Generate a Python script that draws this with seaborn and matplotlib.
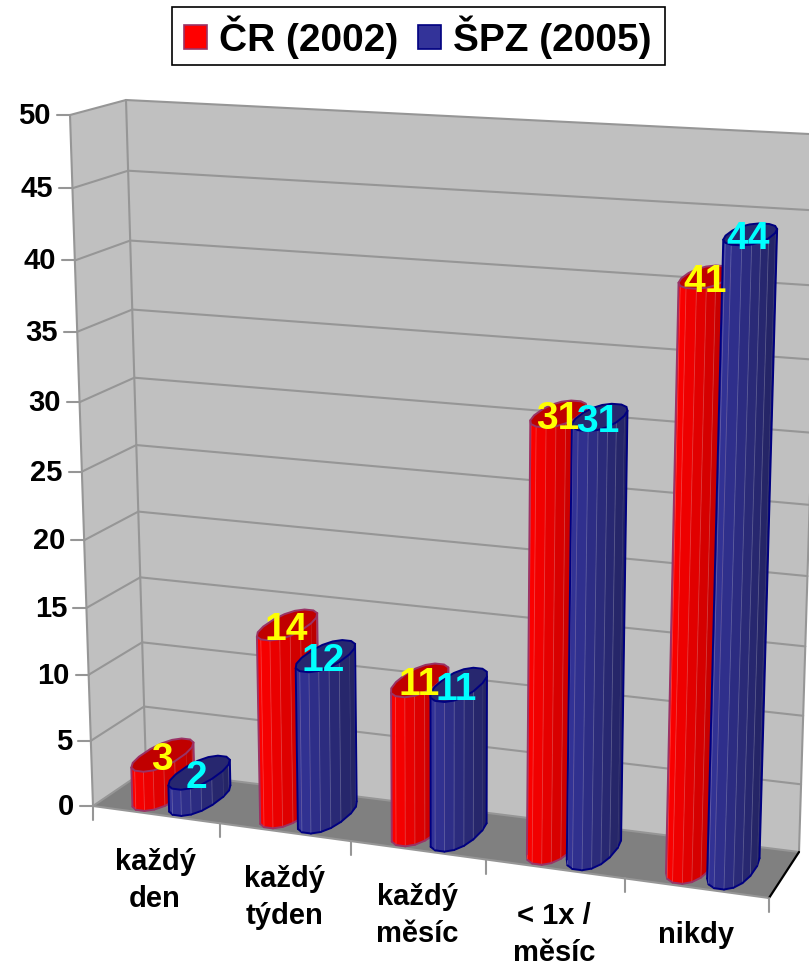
import numpy as np
import pandas as pd
import seaborn as sns
import matplotlib
matplotlib.use("Agg")
import matplotlib.pyplot as plt
from matplotlib.patches import Polygon, Patch, Rectangle

categories = ["každý\nden", "každý\ntýden", "každý\nměsíc", "< 1x /\nměsíc", "nikdy"]
series_names = ["ČR (2002)", "ŠPZ (2005)"]
cr_values = [3, 14, 11, 31, 41]
spz_values = [2, 12, 11, 31, 44]
y_ticks = [0, 5, 10, 15, 20, 25, 30, 35, 40, 45, 50]
y_max = 50

GRID = "#969696"
WALL = "#C0C0C0"
FLOOR = "#808080"
label_colors = ["#FFFF00", "#00FFFF"]
edge_colors = ["#993366", "#000080"]
top_colors = ["#C00000", "#27276F"]
side_light = [np.array([255, 0, 0]) / 255, np.array([51, 51, 153]) / 255]
side_dark = [np.array([184, 0, 0]) / 255, np.array([36, 36, 98]) / 255]

sns.set_theme(style="white")
plt.rcParams["font.family"] = ["Liberation Sans", "DejaVu Sans"]
plt.rcParams["font.weight"] = "bold"

df = pd.DataFrame({
    "cat": categories * 2,
    "series": [series_names[0]] * 5 + [series_names[1]] * 5,
    "value": cr_values + spz_values,
})

fig = plt.figure(figsize=(8.09, 9.67), dpi=100)

# seaborn lays out the dodged bars, they get re-projected below
ax_bar = fig.add_axes([0, 0, 1, 1])
sns.barplot(data=df, x="cat", y="value", hue="series", width=0.58, gap=0,
            legend=False, ax=ax_bar)
bars = [[(b.get_x(), b.get_width(), b.get_height()) for b in c] for c in ax_bar.containers]
ax_bar.set_visible(False)

ax = fig.add_axes([0, 0, 1, 1])
ax.set_xlim(0, 809)
ax.set_ylim(967, 0)
ax.axis("off")


def homography(corners):
    # unit square -> quad (order: 00, 01, 11, 10)
    src = [(0, 0), (0, 1), (1, 1), (1, 0)]
    A, b = [], []
    for (x, y), (X, Y) in zip(src, corners):
        A.append([x, y, 1, 0, 0, 0, -x * X, -y * X])
        A.append([0, 0, 0, x, y, 1, -x * Y, -y * Y])
        b += [X, Y]
    return np.append(np.linalg.solve(np.array(A, float), np.array(b, float)), 1).reshape(3, 3)


H_front = homography([(93, 806), (70, 115), (793, 155), (769, 898)])
H_back = homography([(146, 770), (126, 100), (821, 134.6), (799, 852)])


def project(u, v, d):
    out = []
    for H in (H_front, H_back):
        p = H @ np.array([u, v, 1.0])
        out.append(p[:2] / p[2])
    return (1 - d) * out[0] + d * out[1]


# walls and floor
ax.add_patch(Polygon([project(0, 0, 0), project(0, 1, 0), project(0, 1, 1), project(0, 0, 1)],
                     fc=WALL, ec="none", zorder=1))
ax.add_patch(Polygon([project(0, 0, 1), project(0, 1, 1), project(1, 1, 1), project(1, 0, 1)],
                     fc=WALL, ec="none", zorder=1))
ax.add_patch(Polygon([project(0, 0, 0), project(0, 0, 1), project(1, 0, 1), project(1, 0, 0)],
                     fc=FLOOR, ec="none", zorder=1))


def seg(a, b, color=GRID, lw=1.5, z=2):
    ax.plot([a[0], b[0]], [a[1], b[1]], color=color, lw=lw, zorder=z, solid_capstyle="round")


for t in y_ticks:
    v = t / y_max
    seg(project(0, v, 0), project(0, v, 1))
    seg(project(0, v, 1), project(1, v, 1))
    p = project(0, v, 0)
    seg(p, p + np.array([-13, 0]))
    ax.text(p[0] - 19, p[1] + 1, str(t), ha="right", va="center", fontsize=21,
            color="black", zorder=10)

seg(project(0, 0, 0), project(0, 1, 0))
seg(project(0, 0, 1), project(0, 1, 1))
seg(project(1, 0, 1), project(1, 1, 1))
seg(project(0, 0, 0), project(1, 0, 0))
seg(project(1, 0, 0), project(1, 0, 1), color="black", lw=1.6)

n_cat = len(categories)
for i in range(n_cat + 1):
    p = project(i / n_cat, 0, 0)
    seg(p, p + np.array([0, 14]))

for i, name in enumerate(categories):
    p = project((i + 0.5) / n_cat, 0, 0)
    ax.text(p[0] - 1, p[1] + 33, name, ha="center", va="top", fontsize=21,
            linespacing=1.42, color="black", zorder=10)

# cylinders
N_FACETS = 16
DEPTH_R = 0.46
SQUARE = 0.88  # below 1 squares the ring off a little, like the original columns
labels = []
for s, rows in enumerate(bars):
    for x0, width, height in rows:
        uc = (x0 + width / 2 + 0.5) / n_cat
        ru = width / 2 / n_cat
        v = height / y_max
        ts = np.linspace(0, 2 * np.pi, N_FACETS + 1) + np.pi / N_FACETS
        cs = np.sign(np.cos(ts)) * np.abs(np.cos(ts)) ** SQUARE
        sn = np.sign(np.sin(ts)) * np.abs(np.sin(ts)) ** SQUARE
        ring = list(zip(uc + ru * cs, 0.5 + DEPTH_R * sn))
        bottom = np.array([project(a, 0, b) for a, b in ring])
        top = np.array([project(a, v, b) for a, b in ring])
        xmin, xmax = top[:, 0].min(), top[:, 0].max()
        for k in range(N_FACETS):
            quad = np.array([bottom[k], bottom[k + 1], top[k + 1], top[k]])
            area = 0.5 * np.sum(quad[:, 0] * np.roll(quad[:, 1], -1) - np.roll(quad[:, 0], -1) * quad[:, 1])
            if area > 0:
                continue
            f = np.clip(((top[k, 0] + top[k + 1, 0]) / 2 - xmin) / (xmax - xmin), 0, 1)
            col = (1 - f) * side_light[s] + f * side_dark[s]
            ax.add_patch(Polygon(quad, fc=col, ec=col, lw=0.4, zorder=3 + s))
            ax.plot(quad[[0, 3], 0], quad[[0, 3], 1], color="white", alpha=0.22, lw=0.6, zorder=3 + s)
            ax.plot(bottom[k:k + 2, 0], bottom[k:k + 2, 1], color=edge_colors[s], lw=1.4, zorder=3 + s,
                    solid_capstyle="round")
        # silhouette lines at the outermost points
        li, ri = top[:, 0].argmin(), top[:, 0].argmax()
        lb, rb = bottom[:, 0].argmin(), bottom[:, 0].argmax()
        seg(bottom[lb], top[li], color=edge_colors[s], lw=1.4, z=3 + s)
        seg(bottom[rb], top[ri], color=edge_colors[s], lw=1.4, z=3 + s)
        ax.add_patch(Polygon(top[:-1], fc=top_colors[s], ec=edge_colors[s], lw=1.4, zorder=3 + s))
        labels.append((project(uc, v, 0.5), int(height), label_colors[s], s))

for p, val, col, s in labels:
    ax.text(p[0] - 1 - 1.5 * s, p[1] + 5, str(val), ha="center", va="center", fontsize=28,
            color=col, zorder=12)

# legend box is drawn apart, its padding differs between x and y in the original
ax.add_patch(Rectangle((172, 7), 493, 58, fc="white", ec="black", lw=1.2, zorder=5))
handles = [Patch(fc="#FF0000", ec=edge_colors[0], lw=1.2), Patch(fc="#333399", ec=edge_colors[1], lw=1.2)]
leg = ax.legend(handles, series_names, loc="center", bbox_to_anchor=(417.5, 37), bbox_transform=ax.transData,
                ncol=2, fontsize=28, frameon=False, handlelength=0.6, handleheight=0.6,
                handletextpad=0.3, columnspacing=0.5, borderpad=0, borderaxespad=0, labelcolor="black")
leg.set_zorder(6)

fig.savefig("out.png", dpi=100)
plt.close(fig)
